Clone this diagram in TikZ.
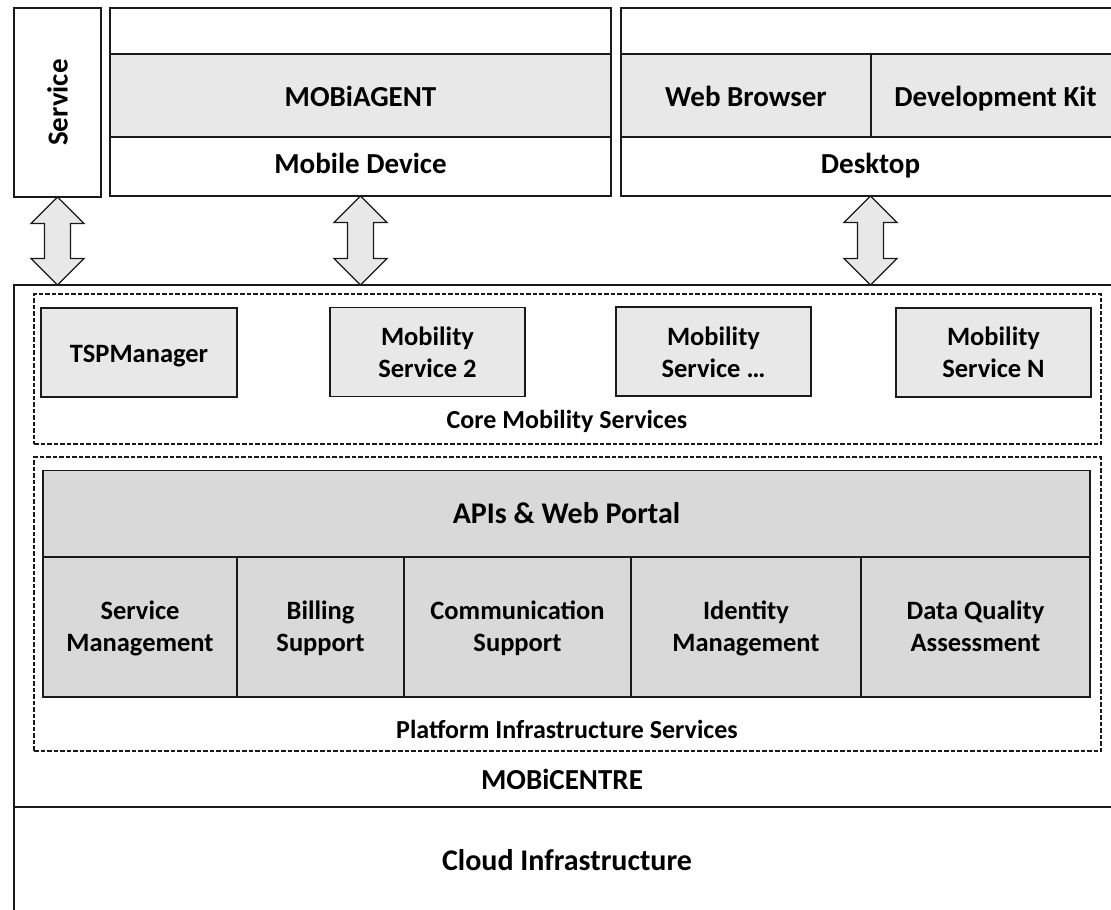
\documentclass[tikz,border=0pt]{standalone}
\usepackage{fontspec}
\setmainfont{Carlito}
\usetikzlibrary{calc}
\definecolor{lightg}{HTML}{E8E8E8}
\definecolor{darkg}{HTML}{D9D9D9}
\definecolor{edge}{HTML}{1A1A1A}
\newcommand\bigf{\fontsize{29}{32}\selectfont\bfseries}
\newcommand\hugef{\fontsize{30}{32}\selectfont\bfseries}
\newcommand\midf{\fontsize{26.5}{32}\selectfont\bfseries}
\newcommand\smf{\fontsize{26}{30}\selectfont\bfseries}
% double arrow between two coordinates (y axis points down)
\newcommand\dblarr[2]{%
  \draw[dblarrow] (#1) -- ++(26.5,26.5) -- ++(-13.5,0) --
    ($(#2)+(13,-26.5)$) -- ++(13.5,0) -- (#2) -- ++(-26.5,-26.5) -- ++(13.5,0) --
    ($(#1)+(-13,26.5)$) -- ++(-13.5,0) -- cycle;}
\begin{document}
\begin{tikzpicture}[x=1pt,y=-1pt,
  rect/.style={draw=edge, line width=1.3pt, inner sep=0pt, outer sep=0pt, fill=white},
  light/.style={rect, fill=lightg},
  dark/.style={rect, fill=darkg},
  dashbox/.style={draw=edge, line width=1.1pt, dash pattern=on 4.5pt off 2pt, inner sep=0pt, outer sep=0pt},
  dblarrow/.style={draw=edge, line width=1.3pt, fill=lightg, line join=miter},
  lbl/.style={inner sep=0pt, anchor=base, text=black},
  ml/.style={inner sep=0pt, align=center, text=black, font=\midf}
]
\useasboundingbox (0,0) rectangle (1111,910);
\fill[white] (0,0) rectangle (1111,910);

% ---------- top row ----------
\node[rect, minimum width=87pt, minimum height=189pt] (svc) at (57.5,102.5) {};
\node[inner sep=0pt, rotate=90, font=\bigf] (svct) at (57.5,102.5) {Service};

\node[rect, minimum width=501pt, minimum height=188pt] (mob) at (360.5,102) {};
\node[light, minimum width=501pt, minimum height=83pt] (agent) at (360.5,95.5) {};
\node[lbl, font=\bigf] (agentt) at (360.5,106) {MOBiAGENT};
\node[lbl, font=\bigf] (mobt) at (360.5,173) {Mobile Device};

\node[rect, minimum width=499pt, minimum height=188pt] (desk) at (870.5,102) {};
\node[light, minimum width=250pt, minimum height=83pt] (wb) at (746,95.5) {};
\node[light, minimum width=249pt, minimum height=83pt] (dk) at (995.5,95.5) {};
\node[lbl, font=\bigf] (wbt) at (746,106) {Web Browser};
\node[lbl, font=\bigf] (dkt) at (995.5,106) {Development Kit};
\node[lbl, font=\bigf] (deskt) at (870.5,173) {Desktop};

% ---------- cloud and mobicentre ----------
\node[rect, minimum width=1106pt, minimum height=113pt] (cloud) at (567,863.5) {};
\node[lbl, font=\hugef] (cloudt) at (567,870) {Cloud Infrastructure};

\node[rect, minimum width=1101pt, minimum height=522pt] (mc) at (564.5,546) {};
\node[lbl, font=\bigf] (mct) at (562,789) {MOBiCENTRE};

% ---------- arrows ----------
\dblarr{svc.south}{svc.south |- mc.north}
\dblarr{mob.south}{mob.south |- mc.north}
\dblarr{desk.south}{desk.south |- mc.north}

% ---------- core mobility services ----------
\node[dashbox, minimum width=1067pt, minimum height=150pt] (core) at (567.5,369) {};
\node[light, minimum width=196pt, minimum height=89pt] (tsp) at (139,352.5) {};
\node[lbl, font=\midf] (tspt) at (139,362) {TSPManager};
\node[light, minimum width=195pt, minimum height=89pt] (ms2) at (427.5,352) {};
\node[ml] (ms2t) at (427.5,354.6) {\strut Mobility\\Service 2\strut};
\node[light, minimum width=195pt, minimum height=89pt] (ms3) at (713.5,351.5) {};
\node[ml] (ms3t) at (713.5,354.6) {\strut Mobility\\Service \dots\strut};
\node[light, minimum width=195pt, minimum height=89pt] (msn) at (993.5,352.5) {};
\node[ml] (msnt) at (993.5,354.6) {\strut Mobility\\Service N\strut};
\node[lbl, font=\smf] (coret) at (567,428) {Core Mobility Services};

% ---------- platform infrastructure services ----------
\node[dashbox, minimum width=1067pt, minimum height=294pt] (plat) at (567.5,604) {};
\node[dark, minimum width=1047pt, minimum height=86pt] (api) at (566.5,513.5) {};
\node[lbl, font=\hugef] (apit) at (566.5,523.5) {APIs \& Web Portal};
\node[dark, minimum width=194pt, minimum height=140pt] (sm) at (140,627) {};
\node[dark, minimum width=167pt, minimum height=140pt] (bs) at (320.5,627) {};
\node[dark, minimum width=227pt, minimum height=140pt] (cs) at (517.5,627) {};
\node[dark, minimum width=230pt, minimum height=140pt] (im) at (746,627) {};
\node[dark, minimum width=229pt, minimum height=140pt] (dq) at (975.5,627) {};
\node[ml] (smt) at (140,628.6) {\strut Service\\Management\strut};
\node[ml] (bst) at (320.5,628.6) {\strut Billing\\Support\strut};
\node[ml] (cst) at (517.5,628.6) {\strut Communication\\Support\strut};
\node[ml] (imt) at (746,628.6) {\strut Identity\\Management\strut};
\node[ml] (dqt) at (975.5,628.6) {\strut Data Quality\\Assessment\strut};
\node[lbl, font=\smf] (platt) at (567,738) {Platform Infrastructure Services};
\end{tikzpicture}
\end{document}
